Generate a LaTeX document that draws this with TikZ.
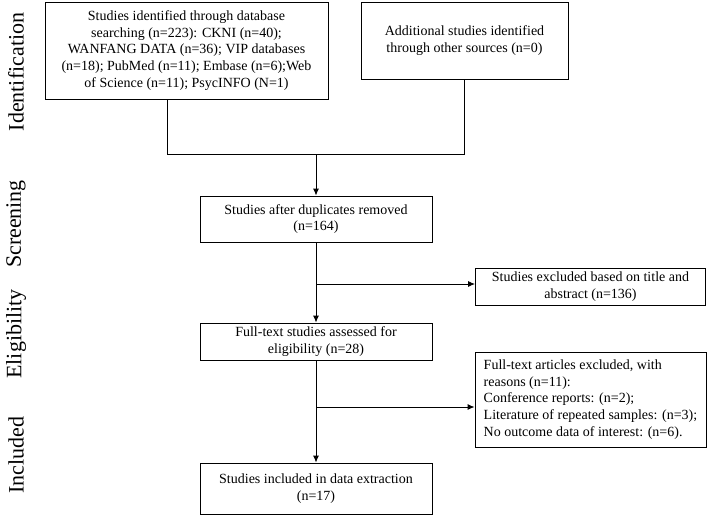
\documentclass[tikz,border=0pt]{standalone}
\usepackage{fontspec}
\setmainfont{Liberation Serif}
\usepackage{tikz}
\usetikzlibrary{positioning, arrows.meta}

\begin{document}
\begin{tikzpicture}[x=1pt, y=-1pt,
  box/.style={rectangle, draw, line width=0.9pt, inner sep=0pt, text centered, align=center, font=\fontsize{14pt}{16.7pt}\selectfont},
  phase/.style={rotate=90, font=\fontsize{22pt}{24pt}\selectfont},
  link/.style={-{Latex[length=7pt, width=6pt]}, line width=0.9pt},
  plain/.style={line width=0.9pt}
]
\useasboundingbox (0,0) rectangle (709,516);

% Phases
\node[phase] (ident) at (16,72) {Identification};
\node[phase] (screen) at (16,224) {Screening};
\node[phase] (elig) at (16,334) {Eligibility};
\node[phase] (incl) at (16,455) {Included};

% Nodes
\node[box, minimum width=283pt, minimum height=97pt] (db) at (186.5,50.5)
  {Studies identified through database\\searching (n=223): CKNI (n=40);\\WANFANG DATA (n=36); VIP databases\\(n=18); PubMed (n=11); Embase (n=6);Web\\of Science (n=11); PsycINFO (N=1)};
\node[box, minimum width=207pt, minimum height=77pt] (other) at (464.5,40.5)
  {Additional studies identified\\through other sources (n=0)};
\node[box, minimum width=232pt, minimum height=46pt] (dup) at (316,219)
  {Studies after duplicates removed\\(n=164)};
\node[box, minimum width=232pt, minimum height=37pt] (full) at (316,341.5)
  {Full-text studies assessed for\\eligibility (n=28)};
\node[box, minimum width=232pt, minimum height=51pt] (final) at (316,488.5)
  {Studies included in data extraction\\(n=17)};
\node[box, minimum width=230pt, minimum height=37pt] (titleout) at (590.5,286.5)
  {Studies excluded based on title and\\abstract (n=136)};
\node[box, align=left, minimum width=231pt, minimum height=95pt] (fullout) at (590.5,399.5)
  {Full-text articles excluded, with\\reasons (n=11):\\Conference reports: (n=2);\\Literature of repeated samples: (n=3);\\No outcome data of interest: (n=6).};

\coordinate (joinl) at (167,154);
\coordinate (joinr) at (464.5,154);
\coordinate (split1) at (316,284);
\coordinate (split2) at (316,407);

% Connections
\draw[plain] (db.south -| joinl) -- (joinl) -- (joinr) -- (other.south);
\draw[link] (dup.north |- joinl) -- (dup.north);
\draw[link] (dup) -- (full);
\draw[link] (split1) -- (split1 -| titleout.west);
\draw[link] (full) -- (final);
\draw[link] (split2) -- (split2 -| fullout.west);

\end{tikzpicture}
\end{document}
